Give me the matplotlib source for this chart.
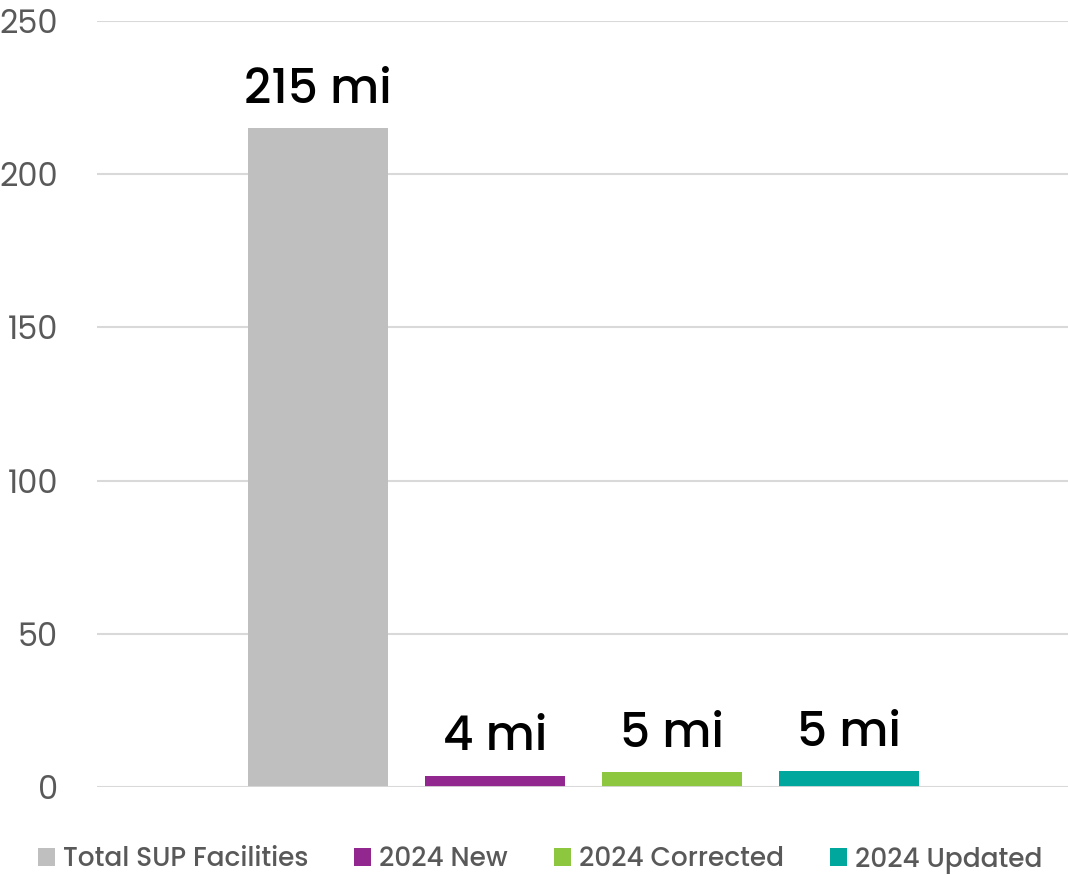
import matplotlib
matplotlib.use("Agg")
import matplotlib.pyplot as plt
from matplotlib.patches import Patch

categories = ["Total SUP Facilities", "2024 New", "2024 Corrected", "2024 Updated"]
values = [215, 3.7, 4.8, 5.1]
labels = ["215 mi", "4 mi", "5 mi", "5 mi"]
colors = ["#BFBFBF", "#92278F", "#8DC63F", "#00A79D"]
yticks = [0, 50, 100, 150, 200, 250]

plt.rcParams['font.family'] = ['Poppins', 'Open Sans', 'DejaVu Sans']

fig = plt.figure(figsize=(10.68, 8.75), dpi=100)
ax = fig.add_axes([97/1068, 1 - 787/875, 1 - 97/1068, (787 - 21)/875])

x = list(range(len(categories)))
ax.bar(x, values, width=0.79, color=colors, zorder=3)
for xi, v, lab in zip(x, values, labels):
    ax.annotate(lab, (xi, v), xytext=(0, 9), textcoords="offset points",
                ha="center", va="bottom", fontsize=34, color="black",
                fontweight="medium")

ax.set_xlim(-1.25, 4.24)
ax.set_ylim(0, 250)
ax.set_yticks(yticks)
ax.set_yticklabels([str(t) for t in yticks])
ax.set_xticks([])
ax.grid(axis="y", color="#D9D9D9", linewidth=1.5, zorder=0)
ax.axhline(0, color="#D9D9D9", linewidth=2, zorder=4)
for s in ax.spines.values():
    s.set_visible(False)
ax.tick_params(axis="y", length=0, pad=28, labelsize=23, labelcolor="#595959")

handles = [Patch(facecolor=c, edgecolor="none") for c in colors]
fig.legend(handles, categories, loc="center", bbox_to_anchor=(540/1068, 1 - 860/875),
           ncol=4, frameon=False, labelcolor="#595959",
           prop={"size": 19, "weight": "medium"},
           handlelength=0.65, handleheight=0.65, handletextpad=0.3, columnspacing=1.74)

fig.savefig("out.png", dpi=100)
